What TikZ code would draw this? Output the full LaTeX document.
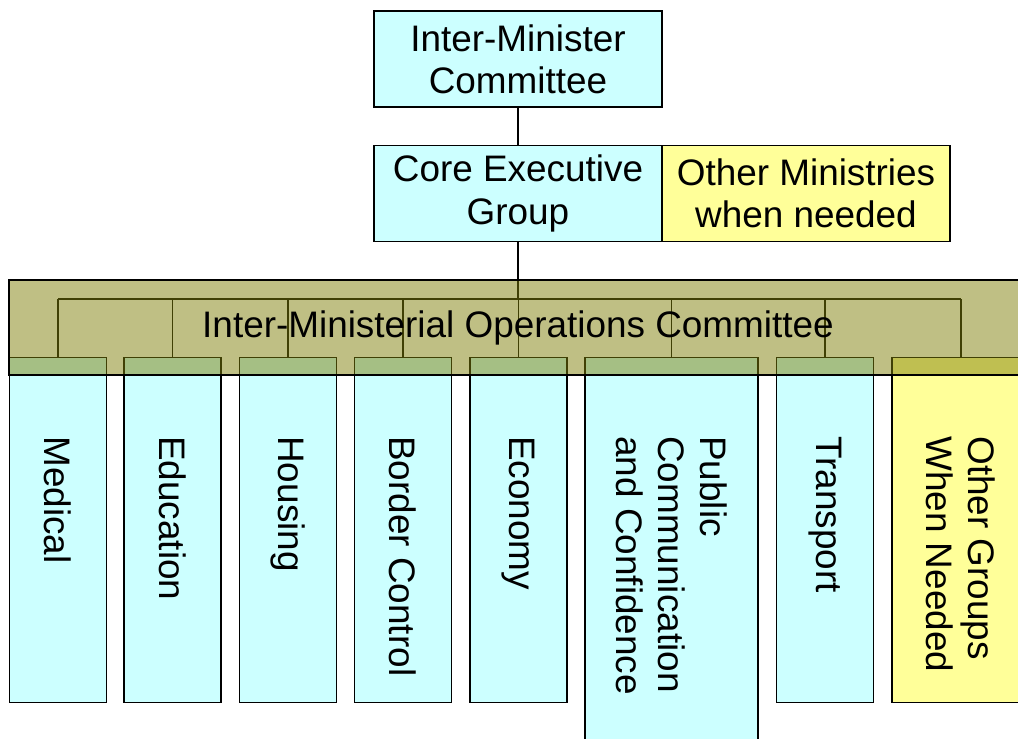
\documentclass[tikz,border=0pt]{standalone}
\usepackage{fontspec}
\setmainfont{Liberation Sans}
\definecolor{cyanbox}{RGB}{204,255,255}
\definecolor{yellowbox}{RGB}{255,255,153}
\definecolor{bandcol}{RGB}{128,128,10}
\tikzset{every node/.style={inner sep=0pt,font=\fontsize{21}{24}\selectfont},
  unit/.style={draw,line width=0.7pt,fill=cyanbox,align=center,minimum width=5.76cm,minimum height=1.92cm},
  sub/.style={draw,line width=0.7pt,fill=cyanbox,anchor=north,minimum width=1.94cm,minimum height=6.9cm},
  vlabel/.style={rotate=-90,anchor=west,align=left},
  band/.style={draw,line width=0.7pt,fill=bandcol,fill opacity=0.5,text opacity=1}}

\begin{document}
\begin{tikzpicture}[x=0.02cm,y=-0.02cm]
\useasboundingbox (0,0) rectangle (1018,738);
\clip (0,0) rectangle (1018,738);

      \node[unit] (imc) at (518,59) {Inter-Minister\\Committee};
      \node[unit] (ceg) at (518,193.5) {Core Executive\\Group};
      \node[unit,fill=yellowbox] (omin) at (806,193.5) {Other Ministries\\when needed};

      \node[sub] (med) at (58,357) {};
      \node[sub] (edu) at (172.5,357) {};
      \node[sub] (hou) at (288,357) {};
      \node[sub] (bor) at (403,357) {};
      \node[sub] (eco) at (518.5,357) {};
      \node[sub,minimum width=3.46cm,minimum height=8.6cm] (pub) at (671.5,357) {};
      \node[sub] (tra) at (825,357) {};
      \node[sub,minimum width=2.76cm,fill=yellowbox] (oth) at (961,357) {};

      \node[vlabel] (medT) at ([yshift=-1.58cm]med.north) {Medical};
      \node[vlabel] (eduT) at ([yshift=-1.58cm]edu.north) {Education};
      \node[vlabel] (houT) at ([yshift=-1.58cm]hou.north) {Housing};
      \node[vlabel] (borT) at ([yshift=-1.58cm]bor.north) {Border Control};
      \node[vlabel] (ecoT) at ([yshift=-1.58cm]eco.north) {Economy};
      \node[vlabel] (pubT) at ([yshift=-1.58cm]pub.north) {Public\\Communication\\and Confidence};
      \node[vlabel] (traT) at ([yshift=-1.58cm]tra.north) {Transport};
      \node[vlabel] (othT) at ([yshift=-1.58cm]oth.north) {Other Groups\\When Needed};

      \coordinate (busL) at (58,299);
      \coordinate (busR) at (961,299);

      \draw[line width=0.7pt] (imc) -- (ceg);
      \draw[line width=1.4pt] (ceg.south) -- (ceg.south |- busL);
      \draw[line width=0.7pt] (busL) -- (busR);
      \foreach \n in {med,edu,hou,bor,eco,pub,tra,oth}
        \draw[line width=0.7pt] (\n.north) -- (\n.north |- busL);

      % operations committee laid over the tree
      \node[band,minimum width=20.36cm,minimum height=1.9cm] (ops) at (518,327.5) {Inter-Ministerial Operations Committee};

\end{tikzpicture}
\end{document}
